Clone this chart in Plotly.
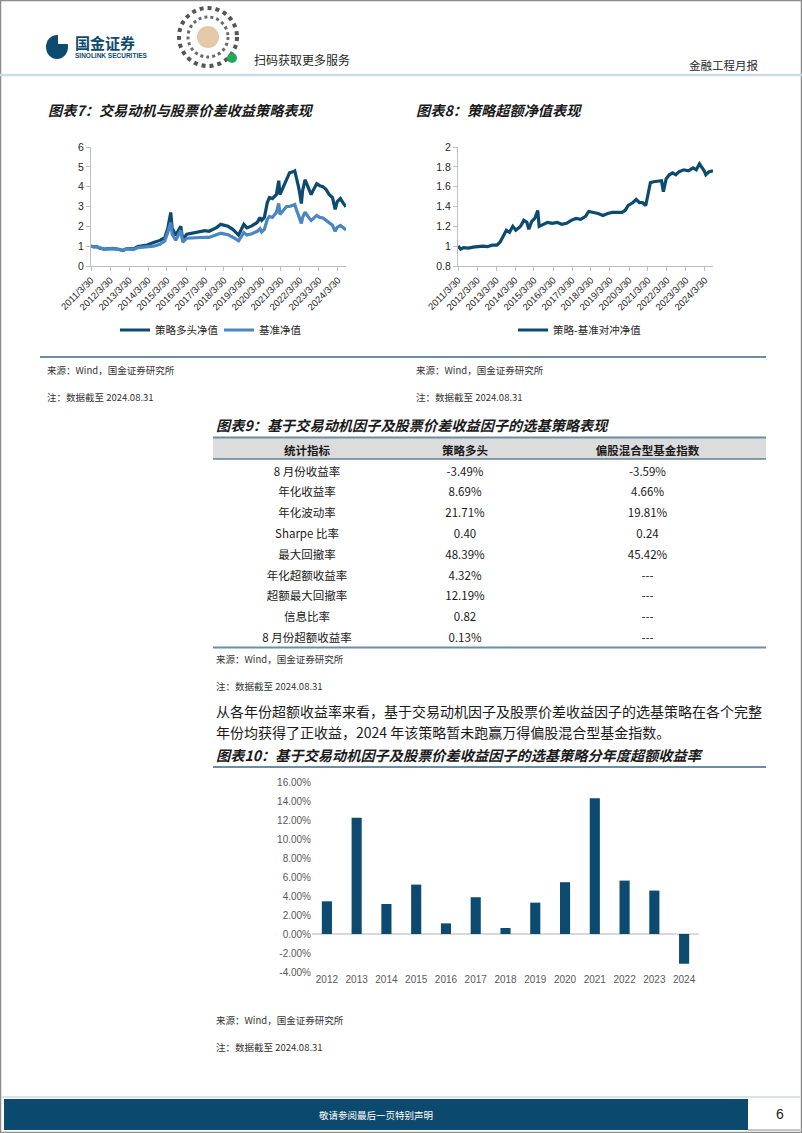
import plotly.graph_objects as go

W, H = 802, 1133
def px(x): return x / W
def py(y): return 1 - y / H

CJK = "Noto Sans CJK SC"
LAT = "Liberation Sans, Arial"
DARK = "#0d4a70"
LIGHT = "#4a86c4"

# ---------------- data ----------------
nav_dates = ['2011-03-30','2011-05-15','2011-07-15','2011-09-15','2011-12-15','2012-03-01','2012-05-10','2012-09-15','2012-11-30','2013-02-15','2013-06-25','2013-09-15','2013-12-15','2014-03-15','2014-07-15','2014-11-15','2015-02-15','2015-04-15','2015-06-10','2015-07-08','2015-09-15','2015-12-20','2016-01-12','2016-01-28','2016-04-15','2016-07-15','2016-10-15','2016-12-15','2017-03-30','2017-06-15','2017-09-15','2017-11-15','2018-01-25','2018-03-30','2018-06-15','2018-09-15','2018-12-15','2019-01-05','2019-04-15','2019-06-15','2019-09-15','2019-12-31','2020-02-20','2020-03-23','2020-05-15','2020-07-10','2020-08-20','2020-10-15','2020-12-31','2021-02-15','2021-03-10','2021-05-15','2021-07-15','2021-09-10','2021-11-15','2021-12-20','2022-01-20','2022-03-10','2022-04-26','2022-05-20','2022-07-05','2022-09-15','2022-10-31','2022-12-15','2023-02-15','2023-04-15','2023-06-15','2023-08-15','2023-10-15','2023-12-15','2024-02-05','2024-03-15','2024-05-15','2024-07-15','2024-08-30']
strategy_nav = [1.00,0.97,0.98,0.90,0.85,0.88,0.89,0.84,0.78,0.88,0.86,0.98,1.02,1.06,1.18,1.29,1.43,1.90,2.70,1.90,1.55,2.00,1.60,1.35,1.60,1.65,1.72,1.75,1.78,1.75,1.85,1.95,2.10,2.05,2.00,1.85,1.60,1.56,2.10,1.92,2.02,2.20,2.45,2.30,2.45,3.20,3.45,3.40,3.60,4.30,3.60,4.00,4.45,4.70,4.75,4.80,4.45,3.90,3.15,3.80,4.35,3.90,3.60,3.85,4.15,4.05,4.00,3.85,3.60,3.45,2.85,3.25,3.40,3.15,2.98]
benchmark_nav = [1.00,0.96,0.97,0.90,0.84,0.86,0.88,0.83,0.78,0.87,0.83,0.93,0.95,0.94,1.00,1.09,1.26,1.70,2.20,1.60,1.30,1.80,1.45,1.20,1.40,1.42,1.45,1.46,1.45,1.44,1.52,1.58,1.65,1.62,1.58,1.45,1.30,1.27,1.68,1.56,1.63,1.75,1.88,1.72,1.85,2.35,2.50,2.45,2.70,3.15,2.60,2.80,3.00,3.00,3.05,3.10,2.85,2.45,2.15,2.45,2.72,2.45,2.30,2.40,2.55,2.45,2.42,2.30,2.15,2.05,1.75,1.95,2.05,1.90,1.82]

hedge_dates = ['2011-03-30','2011-05-20','2011-07-15','2011-10-15','2012-01-15','2012-04-15','2012-07-15','2012-10-15','2013-01-15','2013-04-15','2013-06-15','2013-08-15','2013-10-15','2013-12-15','2014-02-15','2014-04-15','2014-07-15','2014-09-15','2014-11-15','2014-12-20','2015-02-15','2015-04-15','2015-06-10','2015-07-08','2015-09-15','2015-12-15','2016-03-15','2016-06-15','2016-09-15','2016-12-15','2017-03-15','2017-06-15','2017-09-15','2017-12-15','2018-02-15','2018-05-15','2018-08-15','2018-11-15','2019-02-15','2019-05-15','2019-08-15','2019-11-15','2020-01-15','2020-03-15','2020-06-15','2020-08-15','2020-10-15','2020-12-15','2021-02-15','2021-03-20','2021-05-15','2021-07-15','2021-10-15','2021-12-15','2022-01-20','2022-03-15','2022-05-15','2022-07-15','2022-09-15','2022-11-15','2023-02-15','2023-05-15','2023-08-15','2023-10-15','2023-12-15','2024-02-15','2024-03-15','2024-04-15','2024-06-15','2024-08-30']
hedge_nav = [1.00,0.97,0.985,0.98, 0.99,0.995,1.00,0.995, 1.01,1.01,1.04,1.10,1.16,1.14, 1.20,1.16,1.20,1.26,1.24,1.17, 1.25,1.28,1.36,1.20,1.22,1.24, 1.23,1.24,1.22,1.23, 1.26,1.28,1.27,1.30, 1.35,1.34,1.33,1.31, 1.33,1.34,1.34,1.34, 1.36,1.41,1.44,1.47,1.44,1.44, 1.41,1.50,1.64,1.65,1.66,1.66, 1.55,1.68,1.72,1.74,1.72,1.75, 1.77,1.76,1.79,1.77,1.83, 1.79,1.76,1.72,1.75,1.76]

tick_years = list(range(2011, 2025))
date_tickvals = [f"{y}-03-30" for y in tick_years]
date_ticktext = [f"{y}/3/30" for y in tick_years]

bar_years = ['2012','2013','2014','2015','2016','2017','2018','2019','2020','2021','2022','2023','2024']
excess_returns = [0.0344,0.1223,0.0316,0.0520,0.0112,0.0387,0.0063,0.0330,0.0545,0.1430,0.0562,0.0457,-0.0313]
pct_tickvals = [-0.04,-0.02,0.0,0.02,0.04,0.06,0.08,0.10,0.12,0.14,0.16]
pct_ticktext = ['-4.00%','-2.00%','0.00%','2.00%','4.00%','6.00%','8.00%','10.00%','12.00%','14.00%','16.00%']

table_header = ['统计指标', '策略多头', '偏股混合型基金指数']
table_metrics = ['8 月份收益率','年化收益率','年化波动率','Sharpe 比率','最大回撤率','年化超额收益率','超额最大回撤率','信息比率','8 月份超额收益率']
table_strategy = ['-3.49%','8.69%','21.71%','0.40','48.39%','4.32%','12.19%','0.82','0.13%']
table_benchmark = ['-3.59%','4.66%','19.81%','0.24','45.42%','---','---','---','---']

# ---------------- figure ----------------
fig = go.Figure()

fig.add_trace(go.Scatter(x=nav_dates, y=strategy_nav, name='策略多头净值', mode='lines',
                         line=dict(color=DARK, width=3.2), xaxis='x', yaxis='y', legend='legend'))
fig.add_trace(go.Scatter(x=nav_dates, y=benchmark_nav, name='基准净值', mode='lines',
                         line=dict(color=LIGHT, width=3.2), xaxis='x', yaxis='y', legend='legend'))
fig.add_trace(go.Scatter(x=hedge_dates, y=hedge_nav, name='策略-基准对冲净值', mode='lines',
                         line=dict(color=DARK, width=3.2), xaxis='x2', yaxis='y2', legend='legend2'))
fig.add_trace(go.Bar(x=bar_years, y=excess_returns, marker=dict(color=DARK, line=dict(width=0)),
                     xaxis='x3', yaxis='y3', showlegend=False, width=0.34))

fig.add_trace(go.Table(
    domain=dict(x=[px(213), px(766)], y=[py(652), py(438)]),
    columnwidth=[188, 128, 237],
    header=dict(values=table_header, fill_color='#dcdcdc',
                line_color='rgba(0,0,0,0)', align='center', height=21,
                font=dict(family=CJK, size=11.5, color='#1a1a1a', weight='bold')),
    cells=dict(values=[table_metrics, table_strategy, table_benchmark], fill_color='white',
               line_color='rgba(0,0,0,0)', align='center', height=20.8,
               font=dict(family=CJK, size=11.5, color='#1a1a1a'))))

date_axis = dict(type='date', range=['2011-03-30', '2024-08-31'], tickvals=date_tickvals,
                 ticktext=date_ticktext, tickangle=-45, tickfont=dict(family=LAT, size=9.5, color='#262626'),
                 showline=True, linecolor='#bfbfbf', linewidth=1, ticks='outside', ticklen=4,
                 tickcolor='#bfbfbf', showgrid=False, zeroline=False, fixedrange=True, automargin=False)
val_axis = dict(showline=True, linecolor='#bfbfbf', linewidth=1, ticks='outside', ticklen=4,
                tickcolor='#bfbfbf', showgrid=False, zeroline=False, automargin=False,
                tickfont=dict(family=LAT, size=10.5, color='#262626'), fixedrange=True)

fig.update_layout(
    width=W, height=H, autosize=False, margin=dict(l=0, r=0, t=0, b=0, autoexpand=False),
    paper_bgcolor='white', plot_bgcolor='white',
    xaxis=dict(domain=[px(91), px(346)], anchor='y', **date_axis),
    yaxis=dict(domain=[py(266), py(147)], anchor='x', range=[0, 6], dtick=1, **val_axis),
    xaxis2=dict(domain=[px(458), px(713)], anchor='y2', **date_axis),
    yaxis2=dict(domain=[py(266), py(147)], anchor='x2', range=[0.8, 2.0], dtick=0.2, **val_axis),
    xaxis3=dict(domain=[px(312), px(699)], anchor='y3', type='category', showline=False, ticks='',
                tickfont=dict(family=LAT, size=10, color='#595959'), showgrid=False, zeroline=False,
                automargin=False),
    yaxis3=dict(domain=[py(972), py(782)], anchor='x3', range=[-0.04, 0.16], tickvals=pct_tickvals,
                ticktext=pct_ticktext, showline=False, showgrid=False, zeroline=True,
                zerolinecolor='#d9d9d9', zerolinewidth=1.5, automargin=False,
                tickfont=dict(family=LAT, size=10, color='#595959')),
    legend=dict(orientation='h', x=px(115), y=py(330), xanchor='left', yanchor='middle',
                font=dict(family=CJK, size=10.5, color='#262626'), bgcolor='rgba(0,0,0,0)',
                entrywidth=59, entrywidthmode='pixels', itemwidth=30),
    legend2=dict(orientation='h', x=px(513), y=py(330), xanchor='left', yanchor='middle',
                 font=dict(family=CJK, size=10.5, color='#262626'), bgcolor='rgba(0,0,0,0)',
                 itemwidth=30),
    bargap=0.66,
)

ann = []
def txt(x, y, s, size, color='#1a1a1a', xanchor='left', bold=False, italic=False, family=CJK):
    f = dict(family=family, size=size, color=color)
    if bold:
        f['weight'] = 'bold'
    if italic:
        f['style'] = 'italic'
    ann.append(dict(x=px(x), y=py(y), xref='paper', yref='paper', text=s, showarrow=False,
                    xanchor=xanchor, yanchor='middle', font=f))

# header
txt(73, 42, '国金证券', 15, color=DARK, bold=True)
txt(73, 56, 'SINOLINK SECURITIES', 6.5, color=DARK, bold=True, family=LAT)
txt(252, 59, '扫码获取更多服务', 12, color='#262626')
txt(760, 65, '金融工程月报', 11.5, color='#262626', xanchor='right')

# titles
txt(46, 110, '图表7：交易动机与股票价差收益策略表现', 14.2, bold=True, italic=True)
txt(414, 110, '图表8：策略超额净值表现', 14.2, bold=True, italic=True)
txt(214, 425, '图表9：基于交易动机因子及股票价差收益因子的选基策略表现', 14.2, bold=True, italic=True)
txt(214, 755, '图表10：基于交易动机因子及股票价差收益因子的选基策略分年度超额收益率', 14.2, bold=True, italic=True)

# sources / notes
for (x, y) in [(45, 370), (414, 370), (214, 659), (214, 1020)]:
    txt(x, y, '来源：Wind，国金证券研究所', 9.5, color='#333333')
for (x, y) in [(45, 397), (414, 397), (214, 686), (214, 1047)]:
    txt(x, y, '注：数据截至 2024.08.31', 9.5, color='#333333')

# paragraph
txt(214, 711, '从各年份超额收益率来看，基于交易动机因子及股票价差收益因子的选基策略在各个完整', 14.0)
txt(214, 732, '年份均获得了正收益，2024 年该策略暂未跑赢万得偏股混合型基金指数。', 14.0)

# footer
txt(376, 1115, '敬请参阅最后一页特别声明', 9.5, color='white', xanchor='center')
txt(780, 1114, '6', 14, color='#1a1a1a', xanchor='center', family=LAT)

fig.update_layout(annotations=ann)

shapes = []
def line(x0, y0, x1, y1, color, width):
    shapes.append(dict(type='line', xref='paper', yref='paper', x0=px(x0), y0=py(y0), x1=px(x1), y1=py(y1),
                       line=dict(color=color, width=width), layer='above'))
def rect(x0, y0, x1, y1, fill, lc='rgba(0,0,0,0)', lw=0, layer='below'):
    shapes.append(dict(type='rect', xref='paper', yref='paper', x0=px(x0), y0=py(y0), x1=px(x1), y1=py(y1),
                       fillcolor=fill, line=dict(color=lc, width=lw), layer=layer))
def circ(x0, y0, x1, y1, fill, lc='rgba(0,0,0,0)', lw=0, dash='solid'):
    shapes.append(dict(type='circle', xref='paper', yref='paper', x0=px(x0), y0=py(y0), x1=px(x1), y1=py(y1),
                       fillcolor=fill, line=dict(color=lc, width=lw, dash=dash), layer='above'))

# page border
rect(0.5, 0.5, 801.5, 1132.5, 'rgba(0,0,0,0)', '#8c8c8c', 1.5)
# header line
line(0, 75, 802, 75, '#c9dbe7', 2.5)
# logo
circ(46, 35, 68, 59, DARK)
rect(58, 33, 70, 44, 'white', layer='above')
# QR-like mark
circ(179, 8, 237, 66, 'white', '#555555', 4, 'dot')
circ(188, 17, 228, 57, 'white', '#6a6a6a', 3, 'dot')
circ(197, 26, 219, 48, '#e3c8aa')
circ(227, 53, 237, 63, '#22a85c')

# section lines
line(40, 357, 766, 357, '#6b8ea5', 2)
line(213, 437.5, 766, 437.5, '#6b8ea5', 2)
line(213, 459, 766, 459, '#1f4e6b', 1)
line(213, 647.5, 766, 647.5, '#6b8ea5', 2)
line(213, 767, 766, 767, '#6b8ea5', 2)

# footer
line(2, 1097, 800, 1097, '#c9dbe7', 1.5)
rect(4, 1099, 748, 1130, '#0b4a6e')
line(748, 1130, 800, 1130, '#8c8c8c', 1)

fig.update_layout(shapes=shapes)

fig.write_html("out.html")
